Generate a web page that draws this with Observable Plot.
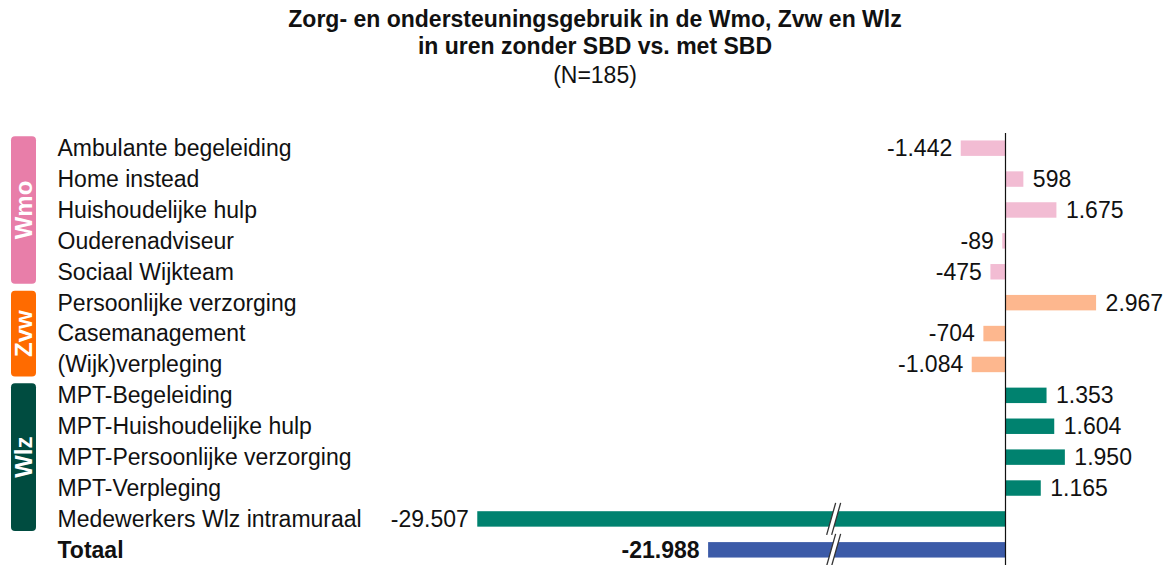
<!DOCTYPE html>
<html>
<head>
<meta charset="utf-8">
<script src="https://cdn.jsdelivr.net/npm/d3@7"></script>
<script src="https://cdn.jsdelivr.net/npm/@observablehq/plot@0.6"></script>
<style>
  html, body { margin: 0; padding: 0; background: #fff; }
  body { width: 1170px; height: 565px; overflow: hidden; font-family: "Liberation Sans", Arial, sans-serif; color: #111; }
  #title { height: 100px; box-sizing: border-box; padding-top: 6px; padding-left: 20px; text-align: center; font-size: 23px; line-height: 27px; }
  #title .b { font-weight: bold; }
  #title .n { margin-top: 2px; }
  #chart svg { display: block; }
</style>
</head>
<body>
<div id="title">
  <div class="b">Zorg- en ondersteuningsgebruik in de Wmo, Zvw en Wlz</div>
  <div class="b">in uren zonder SBD vs. met SBD</div>
  <div class="n">(N=185)</div>
</div>
<div id="chart"></div>
<script>
// ---- data ----
const categories = [
  "Ambulante begeleiding", "Home instead", "Huishoudelijke hulp", "Ouderenadviseur", "Sociaal Wijkteam",
  "Persoonlijke verzorging", "Casemanagement", "(Wijk)verpleging",
  "MPT-Begeleiding", "MPT-Huishoudelijke hulp", "MPT-Persoonlijke verzorging", "MPT-Verpleging",
  "Medewerkers Wlz intramuraal", "Totaal"
];
const values = [-1442, 598, 1675, -89, -475, 2967, -704, -1084, 1353, 1604, 1950, 1165, -29507, -21988];
const groups = ["Wmo", "Wmo", "Wmo", "Wmo", "Wmo", "Zvw", "Zvw", "Zvw", "Wlz", "Wlz", "Wlz", "Wlz", "Wlz", "Totaal"];
const groupNames = ["Wmo", "Zvw", "Wlz", "Totaal"];
const barColors = ["#f2bcd3", "#fdb78e", "#00826f", "#3c5ba8"];
const boxColors = ["#e87ea9", "#ff6b00", "#004c40"];
// part of the value axis that is left out (axis break)
const breakDomain = [-17980, -5500];

const data = categories.map((c, i) => ({category: c, value: values[i], group: groups[i]}));

// ---- axis break: values below the break are shifted towards zero ----
const k = 0.0307;          // px per hour
const gapPx = 5;           // visible width of the break
const shift = (breakDomain[1] - breakDomain[0]) - gapPx / k;
const disp = v => v <= breakDomain[0] ? v + shift : v;

const width = 1170, zeroX = 1005;
const minD = disp(d3.min(values)), maxV = d3.max(values);
const marginLeft = zeroX + minD * k;
const marginRight = width - (zeroX + maxV * k);

const locale = d3.formatLocale({decimal: ",", thousands: ".", grouping: [3], currency: ["€", ""], minus: "-"});
const fmt = locale.format(",d");

const font = "'Liberation Sans', Arial, sans-serif";
const isTot = d => d.group === "Totaal";
const labelDx = 57 - marginLeft;

const plot = Plot.plot({
  width, height: 475,
  marginTop: 25, marginBottom: 2, marginLeft, marginRight,
  style: {fontFamily: font, fontSize: "23px", background: "white", color: "#111", overflow: "visible"},
  x: {domain: [minD, maxV], axis: null},
  y: {domain: categories, axis: null, paddingInner: 0.5, paddingOuter: 0.5, align: 0.5, round: false},
  color: {domain: groupNames, range: barColors},
  marks: [
    Plot.barX(data, {x: d => disp(d.value), y: "category", fill: "group"}),
    Plot.ruleX([0], {stroke: "#111", strokeWidth: 1.2, insetTop: 8, insetBottom: -10}),
    Plot.text(data.filter(d => !isTot(d)), {y: "category", text: "category", frameAnchor: "left", dx: labelDx, textAnchor: "start", fill: "#111", fontSize: 23}),
    Plot.text(data.filter(isTot), {y: "category", text: "category", frameAnchor: "left", dx: labelDx, textAnchor: "start", fill: "#111", fontSize: 23, fontWeight: "bold"}),
    Plot.text(data.filter(d => d.value >= 0), {x: d => disp(d.value), y: "category", text: d => fmt(d.value), dx: 9, textAnchor: "start", fill: "#111", fontSize: 23}),
    Plot.text(data.filter(d => d.value < 0 && !isTot(d)), {x: d => disp(d.value), y: "category", text: d => fmt(d.value), dx: -9, textAnchor: "end", fill: "#111", fontSize: 23}),
    Plot.text(data.filter(d => d.value < 0 && isTot(d)), {x: d => disp(d.value), y: "category", text: d => fmt(d.value), dx: -9, textAnchor: "end", fill: "#111", fontSize: 23, fontWeight: "bold"})
  ]
});
document.getElementById("chart").appendChild(plot);

// ---- decorations: group boxes and axis-break marks ----
const xs = plot.scale("x"), ys = plot.scale("y");
const bw = ys.bandwidth;
const svg = d3.select(plot);
const deco = svg.append("g");

groupNames.slice(0, 3).forEach((g, gi) => {
  const cats = data.filter(d => d.group === g).map(d => d.category);
  const yTop = ys.apply(cats[0]) + bw / 2 - 12;
  const yBot = ys.apply(cats[cats.length - 1]) + bw / 2 + 12;
  deco.append("rect")
    .attr("x", 11).attr("width", 25)
    .attr("y", yTop).attr("height", yBot - yTop)
    .attr("rx", 4).attr("fill", boxColors[gi]);
  const cy = (yTop + yBot) / 2;
  deco.append("text")
    .attr("transform", `translate(23.5,${cy}) rotate(-90)`)
    .attr("text-anchor", "middle").attr("dy", "0.36em")
    .attr("fill", "white").attr("font-weight", "bold").attr("font-size", 24)
    .attr("font-family", font)
    .text(g);
});

const xa = xs.apply(disp(breakDomain[0])), xb = xs.apply(breakDomain[1]);
data.filter(d => d.value < breakDomain[0]).forEach(d => {
  const yc = ys.apply(d.category) + bw / 2;
  const h = 16, s = 4.5;
  const top = yc - bw / 2 - 0.5, bot = yc + bw / 2 + 0.5;
  const sl = (y) => (yc - y) / h * s;
  deco.append("polygon")
    .attr("points", [[xa + sl(bot), bot], [xa + sl(top), top], [xb + sl(top), top], [xb + sl(bot), bot]].map(p => p.join(",")).join(" "))
    .attr("fill", "white");
  [xa, xb].forEach(x0 => {
    deco.append("line")
      .attr("x1", x0 - s).attr("y1", yc + h)
      .attr("x2", x0 + s).attr("y2", yc - h)
      .attr("stroke", "#333").attr("stroke-width", 1.3);
  });
});
</script>
</body>
</html>
